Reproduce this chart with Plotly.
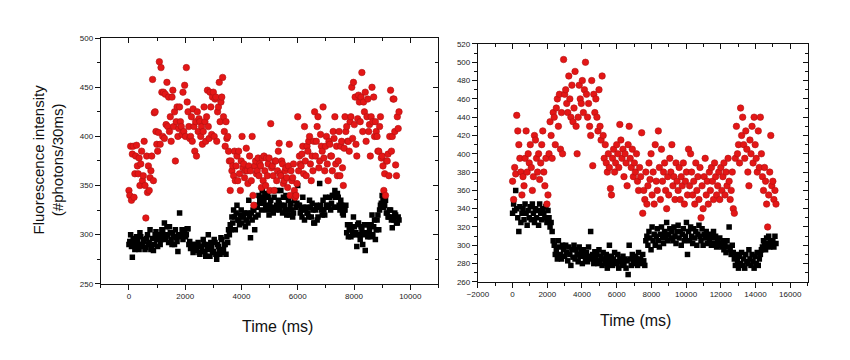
import plotly.graph_objects as go

# ---------------- data ----------------
# Left panel: samples every 30 ms starting at 0 ms
red_left = [
    345, 340, 390, 335, 382, 390, 338, 362, 380, 391, 370, 362, 378, 350, 372, 385, 355, 360, 395, 350,
    317, 380, 343, 370, 345, 358, 365, 380, 458, 355, 424, 425, 405, 392, 385, 404, 476, 392, 470, 445,
    400, 445, 398, 443, 412, 455, 410, 440, 405, 420, 395, 440, 447, 410, 425, 375, 415, 430, 400, 408,
    430, 415, 410, 402, 445, 405, 452, 400, 470, 435, 425, 410, 398, 400, 420, 395, 428, 410, 385, 415,
    380, 425, 405, 418, 415, 400, 410, 392, 405, 430, 415, 395, 420, 447, 410, 398, 445, 430, 402, 440,
    445, 400, 438, 440, 395, 425, 430, 455, 415, 435, 440, 460, 420, 405, 390, 415, 398, 400, 385, 375,
    345, 375, 365, 370, 360, 385, 355, 370, 380, 355, 385, 362, 345, 375, 400, 368, 372, 358, 365, 388,
    365, 352, 370, 380, 365, 355, 400, 340, 330, 370, 375, 362, 365, 378, 360, 372, 370, 348, 378, 355,
    380, 365, 350, 378, 360, 372, 378, 345, 413, 368, 370, 360, 345, 375, 375, 355, 365, 385, 393, 362,
    360, 375, 372, 352, 355, 365, 368, 358, 348, 370, 392, 340, 365, 355, 358, 372, 345, 338, 340, 352,
    420, 365, 380, 372, 370, 382, 390, 362, 410, 375, 360, 390, 385, 395, 400, 372, 355, 380, 365, 395,
    425, 380, 395, 410, 420, 368, 375, 402, 390, 385, 430, 378, 365, 390, 400, 372, 355, 395, 392, 380,
    380, 365, 405, 398, 420, 372, 390, 360, 375, 405, 360, 390, 395, 368, 350, 388, 420, 405, 410, 395,
    395, 385, 415, 420, 450, 398, 455, 412, 440, 392, 380, 418, 442, 435, 415, 440, 465, 405, 435, 425,
    445, 395, 420, 438, 405, 412, 380, 420, 450, 415, 440, 400, 415, 405, 400, 385, 385, 410, 420, 378,
    380, 370, 345, 362, 340, 375, 375, 382, 360, 400, 447, 385, 400, 438, 438, 405, 371, 360, 420, 408,
    425,
]
black_left = [
    290, 293, 300, 288, 277, 296, 292, 285, 288, 298, 295, 290, 285, 302, 298, 288, 290, 295, 293, 285,
    287, 296, 300, 290, 292, 305, 285, 288, 296, 284, 290, 300, 303, 295, 288, 298, 300, 290, 295, 305,
    305, 300, 312, 295, 298, 308, 300, 292, 308, 302, 295, 290, 302, 298, 290, 305, 297, 293, 283, 300,
    322, 298, 300, 305, 295, 302, 305, 298, 300, 306, 306, 290, 293, 286, 288, 290, 282, 285, 290, 284,
    285, 290, 292, 282, 280, 288, 288, 283, 295, 290, 283, 278, 290, 285, 300, 288, 278, 292, 287, 282,
    283, 295, 292, 280, 275, 290, 288, 284, 280, 297, 295, 282, 285, 290, 290, 280, 298, 292, 305, 300,
    310, 305, 318, 312, 325, 318, 305, 322, 330, 315, 315, 310, 320, 325, 312, 318, 318, 322, 308, 315,
    322, 312, 335, 318, 297, 322, 315, 325, 325, 305, 318, 330, 328, 320, 340, 335, 332, 325, 345, 338,
    335, 340, 330, 325, 342, 338, 320, 330, 335, 325, 328, 322, 338, 345, 325, 330, 345, 335, 332, 325,
    345, 330, 322, 338, 330, 325, 340, 320, 325, 335, 320, 330, 332, 325, 318, 322, 335, 340, 328, 332,
    350, 330, 330, 322, 325, 318, 338, 328, 315, 325, 328, 322, 322, 318, 335, 328, 318, 332, 325, 312,
    312, 325, 330, 315, 318, 328, 352, 330, 325, 320, 335, 325, 320, 338, 330, 328, 328, 330, 338, 325,
    332, 340, 340, 328, 345, 338, 328, 342, 338, 330, 325, 335, 330, 322, 320, 325, 325, 330, 302, 310,
    298, 305, 310, 298, 305, 300, 318, 308, 300, 302, 288, 310, 312, 300, 295, 308, 305, 290, 300, 310,
    284, 302, 310, 298, 302, 305, 298, 310, 320, 300, 308, 315, 295, 305, 315, 320, 305, 325, 330, 332,
    340, 335, 328, 330, 335, 322, 322, 318, 318, 325, 325, 315, 307, 318, 315, 322, 320, 312, 312, 318,
    315,
]
t_left = [30 * i for i in range(len(red_left))]

# Right panel: samples every 60 ms starting at 0 ms
red_right = [
    370, 350, 385, 378, 442, 425, 410, 395, 380, 355,
    375, 365, 395, 425, 380, 400, 390, 410, 385, 360,
    375, 420, 415, 395, 380, 400, 372, 390, 410, 425,
    380, 365, 395, 345, 355, 400, 435, 420, 395, 445,
    440, 410, 450, 460, 430, 465, 405, 445, 400, 503,
    465, 470, 455, 445, 485, 460, 440, 475, 435, 450,
    490, 430, 400, 440, 475, 460, 455, 480, 445, 470,
    500, 465, 440, 455, 430, 420, 480, 387, 465, 445,
    460, 440, 425, 470, 430, 415, 485, 420, 395, 410,
    390, 380, 400, 385, 362, 355, 395, 405, 380, 390,
    410, 400, 385, 432, 415, 395, 405, 375, 400, 390,
    365, 410, 430, 395, 385, 405, 375, 390, 380, 400,
    370, 360, 385, 375, 423, 335, 360, 350, 380, 345,
    365, 390, 372, 400, 355, 380, 345, 410, 370, 360,
    425, 385, 350, 405, 370, 380, 390, 360, 340, 375,
    355, 395, 380, 410, 365, 375, 350, 390, 370, 360,
    385, 350, 375, 365, 390, 345, 370, 380, 355, 405,
    365, 400, 380, 355, 370, 345, 390, 360, 375, 350,
    385, 330, 365, 340, 375, 395, 355, 370, 345, 380,
    360, 385, 370, 350, 390, 375, 355, 365, 380, 350,
    385, 360, 375, 390, 355, 380, 365, 395, 370, 350,
    360, 380, 340, 335, 395, 430, 400, 410, 390, 450,
    420, 440, 410, 395, 425, 405, 380, 365, 415, 400,
    430, 390, 440, 410, 395, 380, 425, 385, 440, 400,
    375, 360, 385, 370, 345, 320, 355, 380, 420, 365,
    370, 350, 360, 345,
]
black_right = [
    335, 345, 338, 360, 340, 330, 315, 342, 325, 335,
    340, 328, 345, 335, 322, 338, 330, 342, 328, 345,
    335, 325, 340, 330, 338, 322, 345, 335, 328, 340,
    335, 330, 342, 325, 338, 330, 320, 325, 315, 305,
    300, 290, 295, 285, 305, 298, 290, 285, 300, 295,
    288, 300, 292, 283, 298, 290, 278, 295, 287, 300,
    285, 295, 290, 282, 298, 288, 293, 280, 295, 290,
    285, 292, 282, 298, 288, 315, 285, 290, 280, 293,
    285, 290, 280, 295, 283, 288, 278, 292, 285, 280,
    290, 275, 285, 300, 280, 288, 278, 285, 292, 282,
    280, 290, 275, 285, 282, 278, 288, 280, 285, 275,
    283, 268, 300, 285, 278, 290, 282, 280, 288, 285,
    278, 292, 282, 285, 280, 290, 283, 278, 305, 310,
    300, 315, 308, 295, 320, 305, 312, 300, 310, 318,
    305, 298, 312, 320, 308, 302, 315, 310, 325, 305,
    312, 318, 308, 315, 305, 320, 310, 302, 315, 322,
    308, 315, 300, 312, 318, 305, 310, 325, 290, 315,
    305, 320, 310, 302, 318, 308, 315, 300, 312, 322,
    310, 305, 318, 300, 312, 308, 315, 302, 310, 305,
    312, 300, 308, 315, 302, 310, 298, 305, 300, 308,
    302, 298, 305, 295, 300, 292, 305, 298, 320, 295,
    290, 300, 292, 285, 278, 290, 282, 275, 288, 280,
    292, 278, 285, 275, 290, 282, 280, 295, 285, 278,
    290, 282, 275, 288, 280, 292, 278, 285, 290, 295,
    298, 305, 300, 295, 308, 302, 310, 298, 305, 300,
    305, 298, 310, 302,
]
t_right = [60 * i for i in range(len(red_right))]

x_title = "Time (ms)"
y_title = "Fluorescence intensity<br>(#photons/30ms)"

# ---------------- figure ----------------
W, H = 850, 360
RED = "rgb(228,22,22)"
RED_EDGE = "rgb(175,18,18)"
FONT = "Arial, Liberation Sans, sans-serif"

fig = go.Figure()

def add_pair(t, red, black, xa, ya):
    fig.add_trace(go.Scatter(x=t[:len(black)], y=black, mode="markers", xaxis=xa, yaxis=ya,
                             marker=dict(symbol="square", size=5.5, color="black",
                                         line=dict(width=0)),
                             showlegend=False, hoverinfo="skip"))
    fig.add_trace(go.Scatter(x=t, y=red, mode="markers", xaxis=xa, yaxis=ya,
                             marker=dict(symbol="circle", size=6.5, color=RED,
                                         line=dict(width=0.6, color=RED_EDGE)),
                             showlegend=False, hoverinfo="skip"))

add_pair(t_left, red_left, black_left, "x", "y")
add_pair(t_right, red_right, black_right, "x2", "y2")

# empty traces so the mirror (inside-tick) axes are created
for xa, ya in (("x3", "y3"), ("x4", "y4")):
    fig.add_trace(go.Scatter(x=[], y=[], xaxis=xa, yaxis=ya, showlegend=False))

def px_x(a, b):
    return [a / W, b / W]

def px_y(top, bottom):
    return [1 - bottom / H, 1 - top / H]

tickfont = dict(family=FONT, size=8, color="#222")
common = dict(showgrid=False, zeroline=False, showline=True, linecolor="#111",
              linewidth=1, tickfont=tickfont, tickcolor="#111", ticklen=5,
              tickformat="d")

L_X = px_x(91, 433)
L_Y = px_y(35, 287)
R_X = px_x(473, 807)
R_Y = px_y(41, 285)

def minor(kind, d):
    return dict(ticks=kind, dtick=d, ticklen=3, tickcolor="#111")

fig.update_layout(
    width=W, height=H, margin=dict(l=0, r=0, t=0, b=0),
    paper_bgcolor="white", plot_bgcolor="white",
    font=dict(family=FONT, color="#111"),
    xaxis=dict(domain=L_X, anchor="y", range=[-1000, 11000], dtick=2000,
               ticks="outside", minor=minor("outside", 1000), **common),
    yaxis=dict(domain=L_Y, anchor="x", range=[250, 500], dtick=50,
               ticks="outside", minor=minor("outside", 25), **common),
    xaxis2=dict(domain=R_X, anchor="y2", range=[-2000, 17000], dtick=2000,
                ticks="outside", minor=minor("outside", 1000), **common),
    yaxis2=dict(domain=R_Y, anchor="x2", range=[260, 520], dtick=20,
                ticks="outside", minor=minor("outside", 10), **common),
    xaxis3=dict(overlaying="x", side="top", anchor="y", range=[-1000, 11000], dtick=2000,
                ticks="inside", showticklabels=False, minor=minor("inside", 1000), **common),
    yaxis3=dict(overlaying="y", side="right", anchor="x", range=[250, 500], dtick=50,
                ticks="inside", showticklabels=False, minor=minor("inside", 25), **common),
    xaxis4=dict(overlaying="x2", side="top", anchor="y2", range=[-2000, 17000], dtick=2000,
                ticks="inside", showticklabels=False, minor=minor("inside", 1000), **common),
    yaxis4=dict(overlaying="y2", side="right", anchor="x2", range=[260, 520], dtick=20,
                ticks="inside", showticklabels=False, minor=minor("inside", 10), **common),
)

fig.add_annotation(text=y_title, x=37 / W, y=1 - 160 / H, xref="paper", yref="paper",
                   textangle=-90, showarrow=False, xanchor="center", yanchor="middle",
                   font=dict(family=FONT, size=15, color="#111"))
fig.add_annotation(text=x_title, x=270 / W, y=1 - 331 / H, xref="paper", yref="paper",
                   showarrow=False, xanchor="center", yanchor="middle",
                   font=dict(family=FONT, size=16, color="#111"))
fig.add_annotation(text=x_title, x=633 / W, y=1 - 325 / H, xref="paper", yref="paper",
                   showarrow=False, xanchor="center", yanchor="middle",
                   font=dict(family=FONT, size=16, color="#111"))

fig.write_html("out.html", config={"displayModeBar": False},
               post_script="document.body.style.margin='0';document.body.style.overflow='hidden';")
